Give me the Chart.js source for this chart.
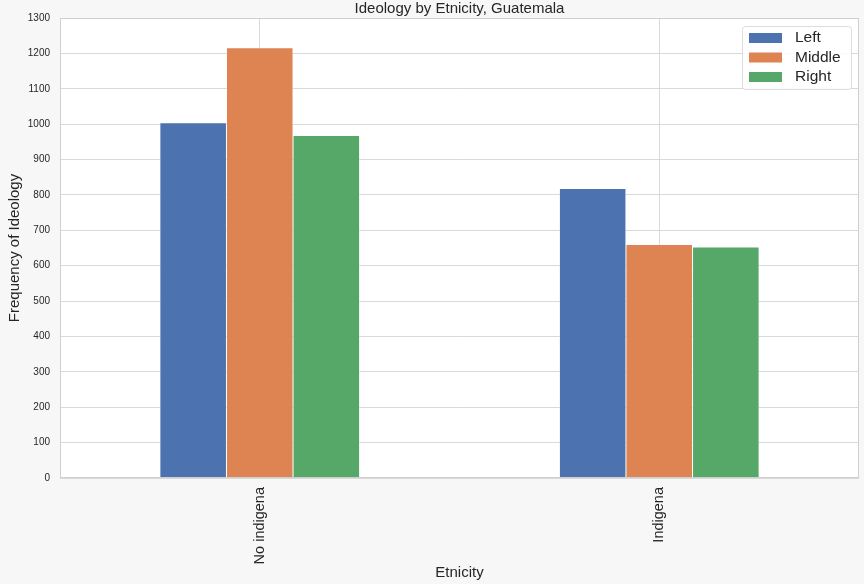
<!DOCTYPE html>
<html>
<head>
<meta charset="utf-8">
<script src="https://cdn.jsdelivr.net/npm/chart.js@4"></script>
<style>
  html, body { margin: 0; padding: 0; background: #f7f7f7; }
  #wrap { width: 864px; height: 584px; }
</style>
</head>
<body>
<div id="wrap"><canvas id="chart" width="864" height="584"></canvas></div>
<script>
// Chart data
const categories = ['No indigena', 'Indigena'];
const seriesNames = ['Left', 'Middle', 'Right'];
const leftValues = [1004, 818];
const middleValues = [1216, 660];
const rightValues = [968, 653];
const colors = ['#4c72b0', '#dd8452', '#55a868'];
const yTicks = [0, 100, 200, 300, 400, 500, 600, 700, 800, 900, 1000, 1100, 1200, 1300];
const chartTitle = 'Ideology by Etnicity, Guatemala';

const FONT = '"Liberation Sans", Arial, sans-serif';

// white plot area + light frame + title centred over the plot
const plotBackground = {
  id: 'plotBackground',
  beforeDraw(chart) {
    const { ctx, chartArea: a } = chart;
    ctx.save();
    ctx.fillStyle = '#f7f7f7';
    ctx.fillRect(0, 0, chart.width, chart.height);
    ctx.fillStyle = '#ffffff';
    ctx.fillRect(a.left, a.top, a.right - a.left, a.bottom - a.top);
    ctx.restore();
  },
  afterDraw(chart) {
    const { ctx, chartArea: a } = chart;
    ctx.save();
    ctx.strokeStyle = '#cfcfcf';
    ctx.lineWidth = 1;
    ctx.strokeRect(a.left + 0.5, a.top + 0.5, a.right - a.left - 1, a.bottom - a.top - 1);
    ctx.fillStyle = '#262626';
    ctx.font = '15px ' + FONT;
    ctx.textAlign = 'center';
    ctx.textBaseline = 'middle';
    ctx.fillText(chartTitle, (a.left + a.right) / 2, 9);
    ctx.restore();
  }
};

// legend drawn inside the plot, upper right
const innerLegend = {
  id: 'innerLegend',
  afterDraw(chart) {
    const { ctx, chartArea: a } = chart;
    const boxW = 109, boxH = 63;
    const x = a.right - 8 - boxW, y = a.top + 8;
    ctx.save();
    ctx.fillStyle = 'rgba(255,255,255,0.85)';
    ctx.strokeStyle = '#dddddd';
    ctx.lineWidth = 1;
    ctx.beginPath();
    ctx.roundRect(x + 0.5, y + 0.5, boxW, boxH, 3);
    ctx.fill();
    ctx.stroke();
    ctx.font = '15.5px ' + FONT;
    ctx.textBaseline = 'middle';
    chart.data.datasets.forEach((ds, i) => {
      const cy = y + 12 + i * 19.5;
      ctx.fillStyle = ds.backgroundColor;
      ctx.fillRect(x + 7, cy - 5, 33, 10);
      ctx.fillStyle = '#262626';
      ctx.fillText(ds.label, x + 53, cy);
    });
    ctx.restore();
  }
};

const seriesValues = [leftValues, middleValues, rightValues];

new Chart(document.getElementById('chart'), {
  type: 'bar',
  data: {
    labels: categories,
    datasets: seriesNames.map((name, i) => ({
      label: name,
      data: seriesValues[i],
      backgroundColor: colors[i],
      borderColor: '#ffffff',
      borderWidth: 0.5,
      categoryPercentage: 0.5,
      barPercentage: 1.0
    }))
  },
  options: {
    responsive: false,
    animation: false,
    layout: { padding: { top: 18, right: 5, bottom: 0, left: 0 } },
    plugins: {
      legend: { display: false },
      tooltip: { enabled: false },
      title: { display: false }
    },
    scales: {
      x: {
        grid: { offset: false, color: '#d9d9d9', drawTicks: false },
        border: { display: false },
        ticks: {
          color: '#262626',
          font: { family: FONT, size: 14.5 },
          minRotation: 90,
          maxRotation: 90,
          padding: 9
        },
        title: {
          display: true,
          text: 'Etnicity',
          color: '#262626',
          font: { family: FONT, size: 15 },
          padding: { top: 0, bottom: 2 }
        },
        afterFit(scale) { scale.height = 106; }
      },
      y: {
        min: 0,
        max: 1300,
        grid: { color: '#d9d9d9', drawTicks: false },
        border: { display: false },
        afterBuildTicks(scale) { scale.ticks = yTicks.map(v => ({ value: v })); },
        ticks: {
          color: '#262626',
          font: { family: FONT, size: 10 },
          padding: 10,
          callback: (v) => String(v)
        },
        title: {
          display: true,
          text: 'Frequency of Ideology',
          color: '#262626',
          font: { family: FONT, size: 15 },
          padding: { top: 6, bottom: 4 }
        },
        afterFit(scale) { scale.width = 60; }
      }
    }
  },
  plugins: [plotBackground, innerLegend]
});
</script>
</body>
</html>
